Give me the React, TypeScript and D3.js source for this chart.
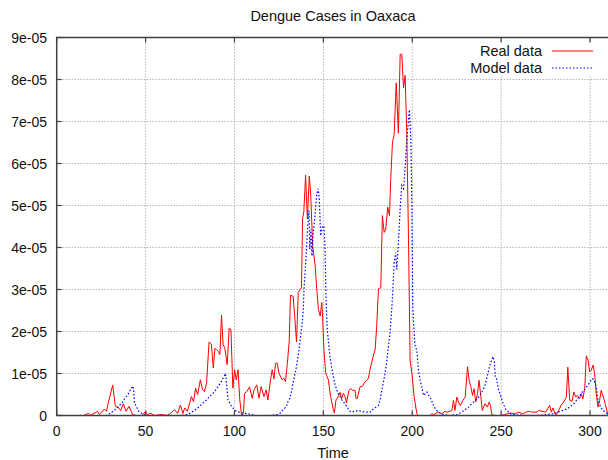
import React from "react";
import * as d3 from "d3";

const title = "Dengue Cases in Oaxaca";
const xLabel = "Time";
const xTicks = [0, 50, 100, 150, 200, 250, 300];
const yTicks = [0, 1e-5, 2e-5, 3e-5, 4e-5, 5e-5, 6e-5, 7e-5, 8e-5, 9e-5];
const yTickLabels = ["0", "1e-05", "2e-05", "3e-05", "4e-05", "5e-05", "6e-05", "7e-05", "8e-05", "9e-05"];
const seriesNames = ["Real data", "Model data"];

// Real data: time and cases (units of 1e-05)
const realTime = [
  15, 18, 19, 21, 23, 24, 26, 27, 28, 29, 31.5, 33, 35, 36, 37.5, 39, 40.7, 42.7, 45, 48,
  50, 51, 53, 55, 58, 60, 62, 64, 66.3, 68, 69.6, 71, 72, 73.5, 75.8, 77, 78.1, 79.3, 80.8, 82,
  83.1, 84.3, 85.7, 87, 88.1, 89, 89.9, 90.9, 91.8, 92.7, 93.6, 94.6, 95.9, 97, 98, 99.1, 100.1, 101, 102, 103,
  104, 105, 105.7, 107, 108.5, 110, 111, 112.5, 113.8, 115, 116.6, 117.8, 118.8, 120.3, 121.2, 122.2, 123.1, 124, 125, 126.8,
  127.7, 128.7, 129.6, 130.8, 131.5, 133, 134, 134.9, 135.9, 137, 137.7, 138.3, 139, 140, 141, 142.1, 142.9, 144, 145.4, 146.3,
  147.2, 148.2, 149.1, 149.6, 150.3, 151.3, 152.8, 154.1, 155.6, 156.2, 157.1, 158.4, 159.4, 160.3, 161.2, 162.2, 163, 164.4, 165.5, 166.5,
  167.8, 168.4, 169.1, 170.6, 172, 173.4, 175.3, 176.6, 178.2, 179.1, 180, 181, 182.3, 183.2, 184.2, 185.1, 186.2, 187.2, 187.9, 188.9,
  189.8, 191, 192.2, 193.2, 194.1, 195.1, 196, 196.9, 197.9, 198.8, 199.8, 201.1, 202.6, 203.5, 205, 210, 211, 212, 214.8, 216.5,
  218.5, 220, 222.3, 223.2, 224, 224.3, 225.1, 226, 227, 228.5, 229.8, 231.1, 232, 233, 233.9, 234.8, 235.7, 236.7, 237.6, 238.5,
  239.4, 240.9, 242.3, 243.2, 244, 244.7, 246.7, 249, 252, 255, 258, 260, 262, 263.8, 265.5, 267.4, 270.2, 271.1, 273, 275,
  276.2, 277.3, 278.2, 279.2, 280.5, 281.5, 282.8, 283.7, 285.2, 286.7, 287.5, 288.6, 289.9, 290.9, 291.9, 292.8, 294.1, 295.1, 296, 297,
  297.9, 298.9, 299.8, 300.7, 301.7, 302.6, 303.5, 304.5, 305.4, 306.3, 307.8, 309.7, 310,
];
const realCases = [
  0, 0.05, 0, 0.05, 0.1, 0.02, 0.12, 0.15, 0.1, 0.3, 0.72, 0.22, 0.18, 0.12, 0.28, 0.1, 0.22, 0.02, 0, 0,
  0.1, 0.02, 0.05, 0, 0.02, 0.02, 0, 0.05, 0.14, 0.05, 0.25, 0.05, 0.18, 0.1, 0.45, 0.33, 0.65, 0.5, 0.85, 0.62,
  0.57, 0.77, 1.75, 1.7, 1.13, 1.6, 1.57, 1.53, 1.45, 2.39, 1.69, 1.6, 1.21, 2.07, 2.05, 0.65, 1.09, 0.85, 1.09, 0.37,
  0, 0.05, 0.53, 0.57, 0.68, 0.41, 0.61, 0.73, 0.41, 0.69, 0.45, 0.61, 0.37, 0.85, 1.09, 0.87, 1.24, 1.25, 1.01, 0.85,
  0.89, 0.81, 1.17, 1.77, 2.86, 2.84, 2.29, 1.75, 2.93, 3.0, 3.05, 4.68, 4.85, 5.72, 4.68, 5.7, 5.24, 4.04, 3.56, 3.0,
  2.53, 2.37, 2.69, 2.33, 1.57, 1.01, 0.85, 0.45, 0.14, 0.06, 0.37, 0.45, 0.55, 0.4, 0.53, 0.45, 0.3, 0.6, 0.64, 0.6,
  0.6, 0.4, 0.41, 0.68, 0.7, 0.8, 0.88, 1.16, 1.44, 1.56, 2.12, 3.02, 3.04, 4.76, 4.36, 4.44, 4.96, 4.76, 5.64, 6.52,
  6.68, 7.92, 6.72, 8.6, 8.6, 7.8, 8.1, 6.76, 4.2, 1.32, 1.0, 0.44, 0.04, 0, 0, 0, 0.04, 0.02, 0.08, 0.04,
  0.1, 0.08, 0.12, 0.36, 0.12, 0.2, 0.44, 0.32, 0.24, 0.36, 0.44, 1.16, 0.84, 0.68, 0.48, 0.64, 0.32, 0.52, 0.84, 0.48,
  0.12, 0.28, 0.2, 0.32, 0.24, 0.02, 0, 0, 0.02, 0.06, 0.04, 0.08, 0.04, 0.08, 0.1, 0.08, 0.08, 0.12, 0.1, 0.08,
  0.16, 0.24, 0.08, 0.18, 0.02, 0.04, 0.16, 0.24, 0.32, 0.44, 1.15, 0.36, 0.34, 0.56, 0.44, 0.48, 0.4, 0.52, 0.4, 0.64,
  1.42, 1.32, 1.04, 1.08, 1.2, 1.0, 0.52, 0.2, 0.36, 0.6, 0.4, 0.08, 0.02,
];

// Model data: time and cases (units of 1e-05)
const modelTime = [
  0, 28, 30, 31.6, 33.5, 35.4, 37, 38.2, 40.1, 41, 42, 43, 43.4, 43.7, 45, 46.1, 48, 50.2, 60, 70,
  73, 75, 76.7, 78.5, 80.4, 82.3, 84.2, 86, 87.9, 89.3, 90.8, 92.2, 93.6, 95, 95.5, 96.4, 97.3, 98.3, 99.7, 101.1,
  102.5, 104, 106, 108, 110, 112.4, 120, 123.7, 125.5, 127.5, 129.3, 130.2, 131.2, 132.2, 133.1, 134, 134.9, 135.9, 136.8, 137.5,
  138.1, 138.7, 139.1, 139.7, 140.2, 140.7, 141.2, 141.9, 142.4, 143, 143.6, 144.3, 145.3, 146.2, 147.1, 147.7, 148.5, 149.4, 150.3, 150.9,
  151.5, 152.2, 153, 153.7, 154.6, 155.6, 156.5, 157.5, 158.4, 159.4, 160.3, 161.2, 162.2, 163.1, 164, 165, 166, 167.8, 169.7, 171.5,
  173.5, 176.3, 178.2, 181, 182, 182.9, 183.8, 184.7, 185.7, 186.6, 187.3, 187.9, 188.5, 189, 189.8, 190.7, 191.3, 192.2, 193.2, 194.1,
  195.1, 195.6, 196.4, 197.3, 198.4, 199.2, 199.8, 200.3, 201.1, 201.6, 202.6, 203.5, 204.4, 205.4, 206.3, 207.3, 208.2, 209, 210, 211,
  212, 213, 213.8, 215.5, 217.6, 221.4, 225, 227, 229, 230.5, 231.7, 233, 234.5, 236, 237.4, 238.8, 240.2, 241.2, 242.1, 243,
  244, 244.7, 245.4, 246.2, 246.7, 247.3, 248.6, 249.5, 250.5, 251.5, 252.4, 253.8, 255.2, 258, 270, 279.6, 281.5, 283.3, 285.2, 287.2,
  289, 290.9, 292.3, 293.7, 295, 296.5, 298, 299.4, 300.3, 301.2, 302.2, 303, 303.5, 304.5, 305.3, 306, 307, 307.8, 309, 310,
];
const modelCases = [
  0, 0, 0.05, 0.1, 0.16, 0.24, 0.32, 0.4, 0.5, 0.58, 0.65, 0.7, 0.55, 0.3, 0.2, 0.1, 0.05, 0, 0, 0,
  0.02, 0.05, 0.1, 0.15, 0.22, 0.3, 0.37, 0.45, 0.53, 0.6, 0.69, 0.78, 0.89, 1.0, 0.77, 0.37, 0.3, 0.22, 0.15, 0.1,
  0.08, 0.06, 0.05, 0.04, 0.02, 0, 0, 0.02, 0.05, 0.14, 0.22, 0.35, 0.41, 0.6, 0.8, 0.98, 1.17, 1.45, 1.73, 2.0,
  2.2, 2.5, 3.0, 3.4, 3.72, 4.1, 4.52, 4.88, 3.96, 4.44, 3.8, 4.36, 4.76, 5.24, 5.4, 5.16, 4.28, 4.48, 4.52, 4.04,
  2.77, 2.05, 1.7, 1.41, 1.15, 0.93, 0.75, 0.61, 0.52, 0.45, 0.38, 0.33, 0.27, 0.22, 0.15, 0.1, 0.08, 0.1, 0.12, 0.1,
  0.08, 0.08, 0.16, 0.24, 0.4, 0.6, 0.8, 1.0, 1.3, 1.64, 1.9, 2.2, 2.55, 2.92, 3.64, 3.88, 3.48, 4.12, 4.92, 5.48,
  5.4, 5.64, 6.2, 6.76, 7.28, 6.6, 5.0, 2.6, 1.96, 1.64, 1.56, 1.08, 0.85, 0.68, 0.48, 0.52, 0.56, 0.5, 0.44, 0.34,
  0.24, 0.16, 0.12, 0.06, 0.02, 0, 0.02, 0.06, 0.12, 0.16, 0.2, 0.26, 0.32, 0.38, 0.44, 0.53, 0.64, 0.76, 0.92, 1.08,
  1.24, 1.32, 1.4, 1.28, 0.92, 0.9, 0.6, 0.5, 0.36, 0.25, 0.16, 0.1, 0.04, 0.01, 0, 0.04, 0.07, 0.1, 0.13, 0.16,
  0.22, 0.28, 0.36, 0.44, 0.52, 0.6, 0.68, 0.76, 0.82, 0.88, 0.85, 0.76, 0.68, 0.36, 0.28, 0.2, 0.15, 0.1, 0.06, 0.04,
];

const W = 608;
const H = 460;
const left = 56.7;
const right = 607.8;
const borderRight = 610;
const top = 37.5;
const bottom = 415.5;
const FONT = "'Liberation Sans', Arial, Helvetica, sans-serif";

export default function App() {
  const x = d3.scaleLinear().domain([0, 310]).range([left, right]);
  const y = d3.scaleLinear().domain([0, 9e-5]).range([bottom, top]);

  const realPts: [number, number][] = realTime.map((t, i) => [t, realCases[i] * 1e-5]);
  const modelPts: [number, number][] = modelTime.map((t, i) => [t, modelCases[i] * 1e-5]);

  const line = d3
    .line<[number, number]>()
    .x((d) => x(d[0]))
    .y((d) => y(d[1]));

  const tickLen = 5;
  const legendY = [51, 68];

  return (
    <svg
      width={W}
      height={H}
      style={{ position: "absolute", left: 0, top: 0, background: "#fff" }}
      fontFamily={FONT}
    >
      <rect x={0} y={0} width={W} height={H} fill="#fff" />
      {/* grid */}
      <g stroke="#909090" strokeWidth={1} strokeDasharray="1,2">
        {xTicks
          .filter((t) => t > 0)
          .map((t) => (
            <line key={"gx" + t} x1={x(t)} x2={x(t)} y1={top} y2={bottom} />
          ))}
        {yTicks
          .filter((t) => t > 0 && t < 9e-5)
          .map((t) => (
            <line key={"gy" + t} x1={left} x2={borderRight} y1={y(t)} y2={y(t)} />
          ))}
      </g>
      {/* opaque key */}
      <rect x={462} y={42} width={140} height={34} fill="#fff" />
      {/* data */}
      <path d={line(realPts) || ""} fill="none" stroke="#ff0000" strokeWidth={1} strokeLinejoin="round" />
      <path
        d={line(modelPts) || ""}
        fill="none"
        stroke="#0000ff"
        strokeWidth={1.2}
        strokeDasharray="1.5,2"
      />
      {/* border */}
      <rect x={left} y={top} width={borderRight - left} height={bottom - top} fill="none" stroke="#404040" strokeWidth={1.5} />
      {/* ticks */}
      <g stroke="#404040" strokeWidth={1.2}>
        {xTicks.map((t) => (
          <g key={"tx" + t}>
            <line x1={x(t)} x2={x(t)} y1={bottom} y2={bottom - tickLen} />
            <line x1={x(t)} x2={x(t)} y1={top} y2={top + tickLen} />
          </g>
        ))}
        {yTicks.map((t) => (
          <line key={"ty" + t} x1={left} x2={left + tickLen} y1={y(t)} y2={y(t)} />
        ))}
      </g>
      {/* tick labels */}
      <g fontSize={14} fill="#111">
        {xTicks.map((t) => (
          <text key={"lx" + t} x={x(t)} y={436} textAnchor="middle">
            {String(t)}
          </text>
        ))}
        {yTicks.map((t, i) => (
          <text key={"ly" + t} x={47} y={y(t) + 5} textAnchor="end">
            {yTickLabels[i]}
          </text>
        ))}
      </g>
      {/* title & axis label */}
      <text x={333} y={21} textAnchor="middle" fontSize={14.5} fill="#111">
        {title}
      </text>
      <text x={333} y={458} textAnchor="middle" fontSize={14.5} fill="#111">
        {xLabel}
      </text>
      {/* legend */}
      <g fontSize={14.5} fill="#111">
        <text x={542} y={legendY[0] + 5} textAnchor="end">
          {seriesNames[0]}
        </text>
        <text x={542} y={legendY[1] + 5} textAnchor="end">
          {seriesNames[1]}
        </text>
      </g>
      <line x1={552} x2={593} y1={legendY[0]} y2={legendY[0]} stroke="#ff0000" strokeWidth={1} />
      <line
        x1={552}
        x2={593}
        y1={legendY[1]}
        y2={legendY[1]}
        stroke="#0000ff"
        strokeWidth={1.2}
        strokeDasharray="1.5,2"
      />
    </svg>
  );
}
